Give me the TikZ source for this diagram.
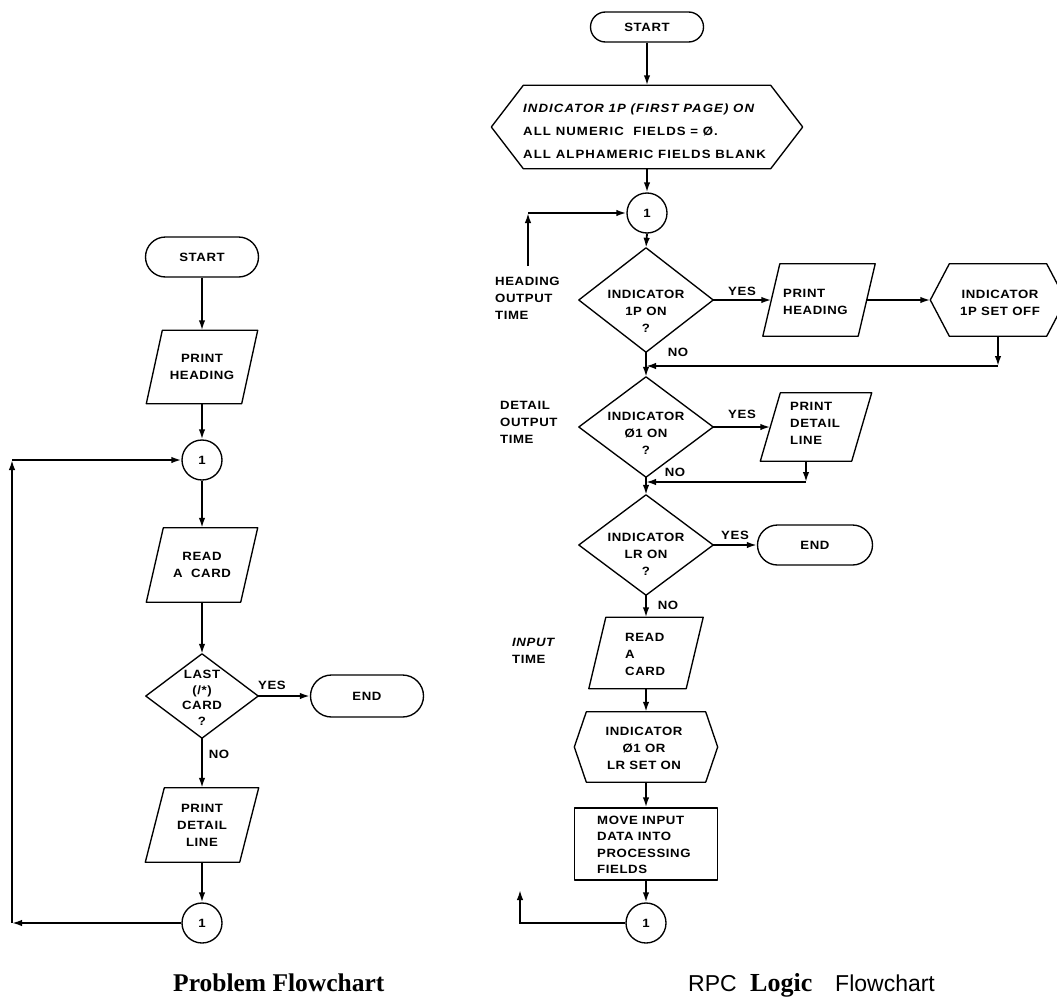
\documentclass[tikz,border=0pt]{standalone}
\usepackage{fontspec}
\usetikzlibrary{arrows.meta,shapes.misc,calc}
\newfontfamily\fcf[FakeStretch=1.1,LetterSpace=5]{Liberation Sans}
\newfontfamily\capserif{Liberation Serif}
\newfontfamily\capsans{Liberation Sans}
\newcommand{\chartfont}{\fcf\bfseries\fontsize{12}{17}\selectfont}
\newcommand{\drawdia}[1]{\draw[outl] (#1.north) -- (#1.east) -- (#1.south) -- (#1.west) -- cycle;}
\newcommand{\drawhex}[2]{\draw[outl] (#1.west) -- ($(#1.north west)+(#2,0)$) -- ($(#1.north east)+(-#2,0)$) -- (#1.east) -- ($(#1.south east)+(-#2,0)$) -- ($(#1.south west)+(#2,0)$) -- cycle;}
\newcommand{\drawpara}[2]{\draw[outl] ($(#1.south west)+(-#2/2,0)$) -- ($(#1.north west)+(#2/2,0)$) -- ($(#1.north east)+(#2/2,0)$) -- ($(#1.south east)+(-#2/2,0)$) -- cycle;}
\tikzset{
  outl/.style={line width=1.35pt, line join=round},
  conn/.style={line width=1.8pt},
  arr/.style={conn, -{Latex[length=10pt,width=6.5pt]}},
  termnode/.style={draw, outl, rounded rectangle, inner sep=0pt, font=\chartfont},
  circnode/.style={draw, outl, circle, minimum size=40pt, inner sep=0pt, font=\chartfont},
  frame/.style={inner sep=0pt, font=\chartfont, align=center},
  txt/.style={inner sep=0pt, font=\chartfont, align=center},
  txtl/.style={inner sep=0pt, font=\chartfont, align=left},
  lab/.style={inner sep=0pt, font=\chartfont},
}
\begin{document}
\begin{tikzpicture}[x=1pt,y=-1pt]
\useasboundingbox (0,0) rectangle (1057,1001);
% ---------------- left: problem flowchart
\node[termnode, minimum width=113pt, minimum height=40pt] (ls) at (202,257) {START};
\node[frame, minimum width=95pt, minimum height=73pt] (lph) at (202,367) {PRINT\\HEADING};
\drawpara{lph}{16}
\node[circnode] (lc1) at (202,460) {1};
\node[frame, minimum width=94pt, minimum height=74pt] (lrc) at (202,565) {READ\\A\ \ CARD};
\drawpara{lrc}{17}
\node[frame, minimum width=112pt, minimum height=84pt] (ld) at (202,696) {};
\drawdia{ld}
\node[txt, font=\fcf\bfseries\fontsize{12}{15.5}\selectfont] (ldt) at (202,698) {LAST\\(/*)\\CARD\\?};
\node[lab] (ly) at (272,685) {YES};
\node[termnode, minimum width=113pt, minimum height=42pt] (le) at (367,696) {END};
\node[lab] (ln) at (219,754) {NO};
\node[frame, minimum width=94pt, minimum height=74pt] (lpd) at (202,825) {PRINT\\DETAIL\\LINE};
\drawpara{lpd}{19}
\node[circnode] (lc2) at (202,923) {1};
\draw[arr] (ls.south) -- (lph.north);
\draw[arr] (lph.south) -- (lc1.north);
\draw[arr] (lc1.south) -- (lrc.north);
\draw[arr] (lrc.south) -- (ld.north);
\draw[arr] (ld.east) -- (le.west);
\draw[arr] (ld.south) -- (lpd.north);
\draw[arr] (lpd.south) -- (lc2.north);
\coordinate (lb) at (12,923);
\coordinate (lt) at (12,460);
\draw[arr] (lc2.west) -- (lb);
\draw[arr] (lb) -- (lt);
\draw[arr] (lt) -- (lc1.west);
% ---------------- right: RPC logic flowchart
\node[termnode, minimum width=113pt, minimum height=30pt] (rs) at (647,27) {START};
\node[frame, minimum width=311pt, minimum height=83pt] (rh1) at (647,127) {};
\drawhex{rh1}{32}
\node[txtl, anchor=west, font=\fcf\bfseries\fontsize{12}{23}\selectfont\addfontfeature{LetterSpace=9}] (rh1t) at (523,131) {{\itshape INDICATOR 1P (FIRST PAGE) ON}\\ALL NUMERIC \ FIELDS = Ø.\\ALL ALPHAMERIC FIELDS BLANK};
\node[circnode] (rc1) at (647,213) {1};
\draw[arr] (rs.south) -- (rh1.north);
\draw[arr] (rh1.south) -- (rc1.north);
\coordinate (rlb) at (528,266);
\coordinate (rlt) at (528,213);
\draw[arr] (rlb) -- (rlt);
\draw[arr] (rlt) -- (rc1.west);
\node[txtl, anchor=west] (hot) at (495,298) {HEADING\\OUTPUT\\TIME};
\node[frame, minimum width=134pt, minimum height=104pt] (rd1) at (646,300) {};
\drawdia{rd1}
\node[txt] (rd1t) at (646,311) {INDICATOR\\1P ON\\?};
\draw[arr] (rc1.south) -- (rd1.north);
\node[lab] (ry1) at (742,291) {YES};
\node[frame, minimum width=95pt, minimum height=72pt] (rph) at (819,300) {};
\drawpara{rph}{17}
\node[txtl, anchor=west] (rpht) at (783,302) {PRINT\\HEADING};
\node[frame, minimum width=135pt, minimum height=72pt] (rh2) at (998,300) {};
\drawhex{rh2}{19}
\node[txt] (rh2t) at (1000,303) {INDICATOR\\1P SET OFF};
\draw[arr] (rd1.east) -- (rph.west);
\draw[arr] (rph.east) -- (rh2.west);
\coordinate (rj1) at (646,366);
\coordinate (rk1) at (rh2.south |- rj1);
\draw[arr] (rh2.south) -- (rk1);
\draw[arr] (rk1) -- (rj1);
\node[lab] (rn1) at (678,352) {NO};
\node[txtl, anchor=west] (dot) at (500,422) {DETAIL\\OUTPUT\\TIME};
\node[frame, minimum width=134pt, minimum height=100pt] (rd2) at (646,427) {};
\drawdia{rd2}
\node[txt] (rd2t) at (646,433) {INDICATOR\\Ø1 ON\\?};
\draw[arr] (rd1.south) -- (rd2.north);
\node[lab] (ry2) at (742,414) {YES};
\node[frame, minimum width=91pt, minimum height=68pt] (rpd) at (816,427) {};
\drawpara{rpd}{20}
\node[txtl, anchor=west] (rpdt) at (790,423) {PRINT\\DETAIL\\LINE};
\draw[arr] (rd2.east) -- (rpd.west);
\coordinate (rj2) at (646,482);
\coordinate (rp2) at ($(rpd.south)+(-10,0)$);
\coordinate (rk2) at (rp2 |- rj2);
\draw[arr] (rp2) -- (rk2);
\draw[arr] (rk2) -- (rj2);
\node[lab] (rn2) at (675,472) {NO};
\node[frame, minimum width=134pt, minimum height=100pt] (rd3) at (646,545) {};
\drawdia{rd3}
\node[txt] (rd3t) at (646,554) {INDICATOR\\LR ON\\?};
\draw[arr] (rd2.south) -- (rd3.north);
\node[lab] (ry3) at (735,535) {YES};
\node[termnode, minimum width=115pt, minimum height=40pt] (re) at (815,545) {END};
\draw[arr] (rd3.east) -- (re.west);
\node[lab] (rn3) at (668,605) {NO};
\node[frame, minimum width=97pt, minimum height=71pt] (rrc) at (646,653) {};
\drawpara{rrc}{17}
\node[txtl, anchor=west] (rrct) at (625,654) {READ\\A\\CARD};
\draw[arr] (rd3.south) -- (rrc.north);
\node[txtl, anchor=west] (it) at (512,651) {{\itshape INPUT}\\TIME};
\node[frame, minimum width=143pt, minimum height=70pt] (rh3) at (646,747) {};
\drawhex{rh3}{12}
\node[txt] (rh3t) at (644,748) {INDICATOR\\Ø1 OR\\LR SET ON};
\draw[arr] (rrc.south) -- (rh3.north);
\node[draw, outl, minimum width=143pt, minimum height=72pt, inner sep=0pt] (rmv) at (646,844) {};
\node[txtl, anchor=west, font=\fcf\bfseries\fontsize{12}{16.5}\selectfont] (rmvt) at (597,845) {MOVE INPUT\\DATA INTO\\PROCESSING\\FIELDS};
\draw[arr] (rh3.south) -- (rmv.north);
\node[circnode] (rc2) at (646,923) {1};
\draw[arr] (rmv.south) -- (rc2.north);
\coordinate (rob) at (520,923);
\coordinate (rot) at (520,890);
\draw[arr] (rc2.west) -- (rob) -- (rot);
% ---------------- captions
\node[font=\capserif\bfseries\fontsize{25.5}{30}\selectfont, anchor=base west, inner sep=0pt] (cap1) at (173,991) {Problem Flowchart};
\node[font=\capsans\fontsize{23}{28}\selectfont, anchor=base west, inner sep=0pt] (cap2a) at (688,991) {RPC};
\node[font=\capserif\bfseries\fontsize{26}{30}\selectfont, anchor=base west, inner sep=0pt] (cap2b) at (750,991) {Logic};
\node[font=\capsans\fontsize{23}{28}\selectfont, anchor=base west, inner sep=0pt] (cap2c) at (835,991) {Flowchart};
\end{tikzpicture}
\end{document}
